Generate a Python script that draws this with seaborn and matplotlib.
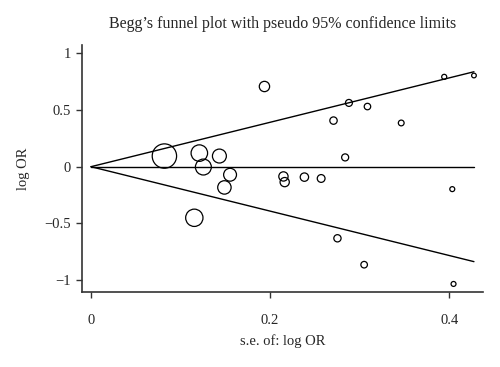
import numpy as np
import pandas as pd
import matplotlib
matplotlib.use("Agg")
import matplotlib.pyplot as plt
import seaborn as sns

# standard error and log odds ratio of each study
se = [0.082, 0.121, 0.1255, 0.1434, 0.1553, 0.149, 0.1154, 0.1937,
      0.288, 0.3087, 0.2708, 0.3464, 0.3944, 0.4276, 0.2838, 0.2149,
      0.2163, 0.2383, 0.257, 0.4034, 0.2752, 0.305, 0.4048]
log_or = [0.094, 0.120, -0.003, 0.094, -0.071, -0.183, -0.451, 0.708,
          0.563, 0.531, 0.407, 0.386, 0.793, 0.805, 0.082, -0.086,
          -0.136, -0.092, -0.104, -0.198, -0.632, -0.865, -1.035]
pooled = 0.0
x_ticks = [0, 0.2, 0.4]
y_ticks = [-1, -0.5, 0, 0.5, 1]
y_ticklabels = ["\u22121", "\u22120.5", "0", "0.5", "1"]

df = pd.DataFrame({"se": se, "log_or": log_or})
df["weight"] = 1 / df["se"] ** 2

sns.set_theme(style="white")
plt.rcParams["font.family"] = ["Liberation Serif", "DejaVu Serif"]

fig = plt.figure(figsize=(5, 3.67), dpi=100)
ax = fig.add_axes([0.164, 0.205, 0.802, 0.672])

# pseudo 95% confidence limits
se_max = df["se"].max()
lim_x = np.array([0, se_max])
ax.plot(lim_x, pooled + 1.96 * lim_x, color="black", lw=1.0)
ax.plot(lim_x, pooled - 1.96 * lim_x, color="black", lw=1.0)
ax.plot(lim_x, [pooled, pooled], color="black", lw=1.0)

# marker area proportional to study weight
k = 2.07
sns.scatterplot(data=df, x="se", y="log_or", size="weight",
                sizes=(k * df["weight"].min(), k * df["weight"].max()),
                facecolor="none", edgecolor="black", linewidth=0.9,
                legend=False, ax=ax, zorder=3)

ax.set_xlim(-0.01, 0.4377)
ax.set_ylim(-1.104, 1.073)
ax.set_xticks(x_ticks)
ax.set_xticklabels(["0", "0.2", "0.4"])
ax.set_yticks(y_ticks)
ax.set_yticklabels(y_ticklabels)
ax.tick_params(axis="both", direction="out", length=4, width=1, color="#333333",
               labelsize=10.5, pad=12, bottom=True, left=True)
ax.tick_params(axis="y", pad=4)

for side in ["top", "right"]:
    ax.spines[side].set_visible(False)
for side in ["left", "bottom"]:
    ax.spines[side].set_color("#333333")
    ax.spines[side].set_linewidth(1.2)

ax.set_xlabel("s.e. of: log OR", fontsize=10.5, labelpad=5)
ax.set_ylabel("log OR", fontsize=10.5, labelpad=10)
ax.set_title("Begg\u2019s funnel plot with pseudo 95% confidence limits",
             fontsize=11.5, pad=12)

fig.savefig("out.png", dpi=100)
